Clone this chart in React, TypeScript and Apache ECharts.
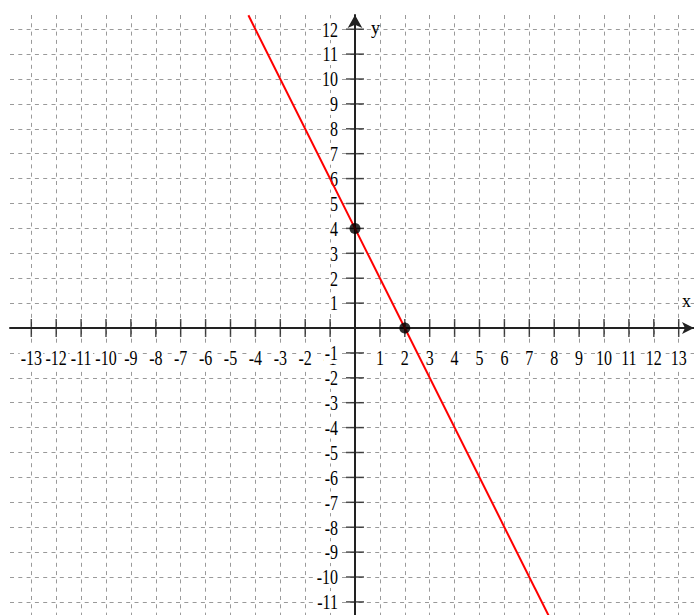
import React, { useEffect, useRef } from "react";
import * as echarts from "echarts";

// Tick labels (integers, zero omitted)
const xTicks = [-13, -12, -11, -10, -9, -8, -7, -6, -5, -4, -3, -2, -1, 1, 2, 3, 4, 5, 6, 7, 8, 9, 10, 11, 12, 13];
const yTicks = [-11, -10, -9, -8, -7, -6, -5, -4, -3, -2, -1, 1, 2, 3, 4, 5, 6, 7, 8, 9, 10, 11, 12];

// Red line endpoints
const lineX = [-4.28, 7.8];
const lineY = [12.56, -11.6];

// Marked points
const pointX = [0, 2];
const pointY = [4, 0];

// Visible axis extents
const xMin = -13.855;
const xMax = 13.614;
const yMin = -11.526;
const yMax = 12.57;

export default function App() {
  const ref = useRef<HTMLDivElement>(null);

  useEffect(() => {
    document.body.style.margin = "0";
    const chart = echarts.init(ref.current!, null, { renderer: "svg" });
    const font = "Liberation Serif";
    const gridLine = {
      show: true,
      showMinLine: false,
      showMaxLine: false,
      lineStyle: { color: "#9a9a9a", width: 1, type: [4, 4.3] },
    };
    const axisColor = "#222";
    const nameText = { fontFamily: font, fontSize: 18, color: "#000" };
    const labelFontSize = 16;
    const stretch = 1.35;

    chart.setOption({
      animation: false,
      grid: { left: 10, right: 0, top: 15, bottom: 0, outerBoundsMode: "none", containLabel: false },
      xAxis: {
        type: "value",
        min: xMin,
        max: xMax,
        minInterval: 1,
        maxInterval: 1,
        axisLine: {
          onZero: true,
          lineStyle: { color: axisColor, width: 2 },
          symbol: ["none", "arrow"],
          symbolSize: [9, 12],
        },
        axisTick: { show: false },
        axisLabel: { show: false },
        splitLine: gridLine,
        name: "x",
        nameLocation: "end",
        nameGap: -12,
        nameMoveOverlap: false,
        nameTextStyle: {
          ...nameText,
          align: "left",
          verticalAlign: "bottom",
          padding: [0, 0, 18, 0],
        },
      },
      yAxis: {
        type: "value",
        min: yMin,
        max: yMax,
        minInterval: 1,
        maxInterval: 1,
        axisLine: {
          onZero: true,
          lineStyle: { color: axisColor, width: 2 },
          symbol: ["none", "arrow"],
          symbolSize: [11, 13],
        },
        axisTick: { show: false },
        axisLabel: { show: false },
        splitLine: gridLine,
        name: "y",
        nameLocation: "end",
        nameGap: -13,
        nameMoveOverlap: false,
        nameTextStyle: {
          ...nameText,
          align: "left",
          verticalAlign: "middle",
          padding: [0, 0, 0, 16],
        },
      },
      series: [
        // x-axis tick labels (tall, narrow, white-backed)
        {
          type: "custom",
          silent: true,
          clip: false,
          z: 2,
          data: xTicks.map((v) => [v, 0]),
          renderItem: (_params: any, api: any) => {
            const v = api.value(0);
            const p = api.coord([v, 0]);
            return {
              type: "text",
              x: p[0],
              y: p[1] + 19,
              scaleY: stretch,
              style: {
                text: String(v),
                fontFamily: font,
                fontSize: labelFontSize,
                fill: "#000",
                align: "center",
                verticalAlign: "top",
                backgroundColor: "#fff",
                padding: [0, 1, 0, 1],
              },
            };
          },
        },
        // y-axis tick labels
        {
          type: "custom",
          silent: true,
          clip: false,
          z: 2,
          data: yTicks.map((v) => [0, v]),
          renderItem: (_params: any, api: any) => {
            const v = api.value(1);
            const p = api.coord([0, v]);
            return {
              type: "text",
              x: p[0] - 16,
              y: p[1],
              scaleY: stretch,
              style: {
                text: String(v),
                fontFamily: font,
                fontSize: labelFontSize,
                fill: "#000",
                align: "right",
                verticalAlign: "middle",
                backgroundColor: "#fff",
                padding: [0, 1, 0, 1],
              },
            };
          },
        },
        // tick marks crossing the axes
        {
          type: "scatter",
          silent: true,
          symbol: "rect",
          symbolSize: [1.5, 18],
          itemStyle: { color: axisColor },
          data: xTicks.map((v) => [v, 0]),
          z: 2,
        },
        {
          type: "scatter",
          silent: true,
          symbol: "rect",
          symbolSize: [18, 1.5],
          itemStyle: { color: axisColor },
          data: yTicks.map((v) => [0, v]),
          z: 2,
        },
        {
          type: "line",
          silent: true,
          showSymbol: false,
          lineStyle: { color: "#ff0000", width: 2 },
          data: lineX.map((x, i) => [x, lineY[i]]),
          z: 3,
        },
        {
          type: "scatter",
          silent: true,
          symbol: "circle",
          symbolSize: 11,
          itemStyle: { color: "#000" },
          data: pointX.map((x, i) => [x, pointY[i]]),
          z: 4,
        },
      ],
    });
    return () => chart.dispose();
  }, []);

  return (
    <div
      ref={ref}
      style={{ position: "fixed", left: 0, top: 0, width: 694, height: 615, background: "#fff" }}
    />
  );
}
